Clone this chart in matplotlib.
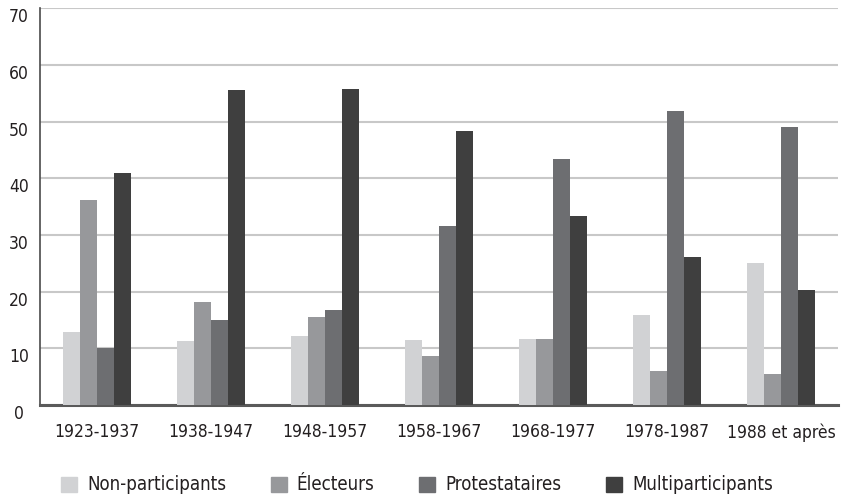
import matplotlib
matplotlib.use("Agg")
import matplotlib.pyplot as plt
import matplotlib.patches as mpatches
import numpy as np

periods = ["1923-1937", "1938-1947", "1948-1957", "1958-1967",
           "1968-1977", "1978-1987", "1988 et après"]
series_names = ["Non-participants", "Électeurs", "Protestataires", "Multiparticipants"]
non_participants = [12.8, 11.3, 12.1, 11.5, 11.7, 15.9, 25.1]
electeurs = [36.2, 18.2, 15.6, 8.7, 11.7, 6.0, 5.5]
protestataires = [10.1, 15.0, 16.8, 31.6, 43.4, 51.9, 49.1]
multiparticipants = [40.9, 55.5, 55.8, 48.4, 33.4, 26.1, 20.3]
y_ticks = [0, 10, 20, 30, 40, 50, 60, 70]

colors = ["#d1d2d4", "#97989b", "#6d6e71", "#3f3f3f"]
text_color = "#231f20"

plt.rcParams["font.family"] = ["DejaVu Sans"]
plt.rcParams["font.stretch"] = "condensed"

W, H = 844, 496
fig = plt.figure(figsize=(W / 100, H / 100), dpi=100)
ax = fig.add_axes([40 / W, 1 - 405 / H, (838 - 40) / W, (405 - 8.3) / H])

x = np.arange(len(periods))
bar_w = 0.146
step = 0.148
all_series = [non_participants, electeurs, protestataires, multiparticipants]
for i, (vals, c) in enumerate(zip(all_series, colors)):
    offs = (i - 1.5) * step
    ax.bar(x + offs, vals, width=bar_w, color=c, zorder=3)

ax.set_xlim(-0.5, len(periods) - 0.5)
ax.set_ylim(0, 70)
ax.set_yticks(y_ticks)
ax.set_yticklabels([])
label_x = -0.5 - 21 / 798 * 7
for v in y_ticks:
    ax.text(label_x, v, str(v), transform=ax.transData,
            ha="center", va="top", fontsize=12.5, color=text_color,
            clip_on=False)
ax.tick_params(axis="y", length=0)
ax.set_xticks(x)
ax.set_xticklabels(periods, fontsize=12.5, color=text_color)
ax.tick_params(axis="x", length=0, pad=13)

ax.grid(axis="y", color="#c8c8c8", linewidth=1.5, zorder=0)
ax.set_axisbelow(True)
for s in ["top", "right"]:
    ax.spines[s].set_visible(False)
ax.spines["left"].set_color("#4a4a4a")
ax.spines["left"].set_linewidth(1.2)
ax.spines["bottom"].set_color("#5a5a5a")
ax.spines["bottom"].set_linewidth(2.2)

handles = [mpatches.Patch(color=c, label=n) for c, n in zip(colors, series_names)]
leg = fig.legend(handles=handles, loc="center left", ncol=4,
                 bbox_to_anchor=(61 / W, 1 - 485 / H), frameon=False,
                 fontsize=13.4, handlelength=0.86, handleheight=0.86,
                 handletextpad=0.54, columnspacing=2.4, borderpad=0,
                 borderaxespad=0)
for t in leg.get_texts():
    t.set_color(text_color)

fig.savefig("out.png", dpi=100)
